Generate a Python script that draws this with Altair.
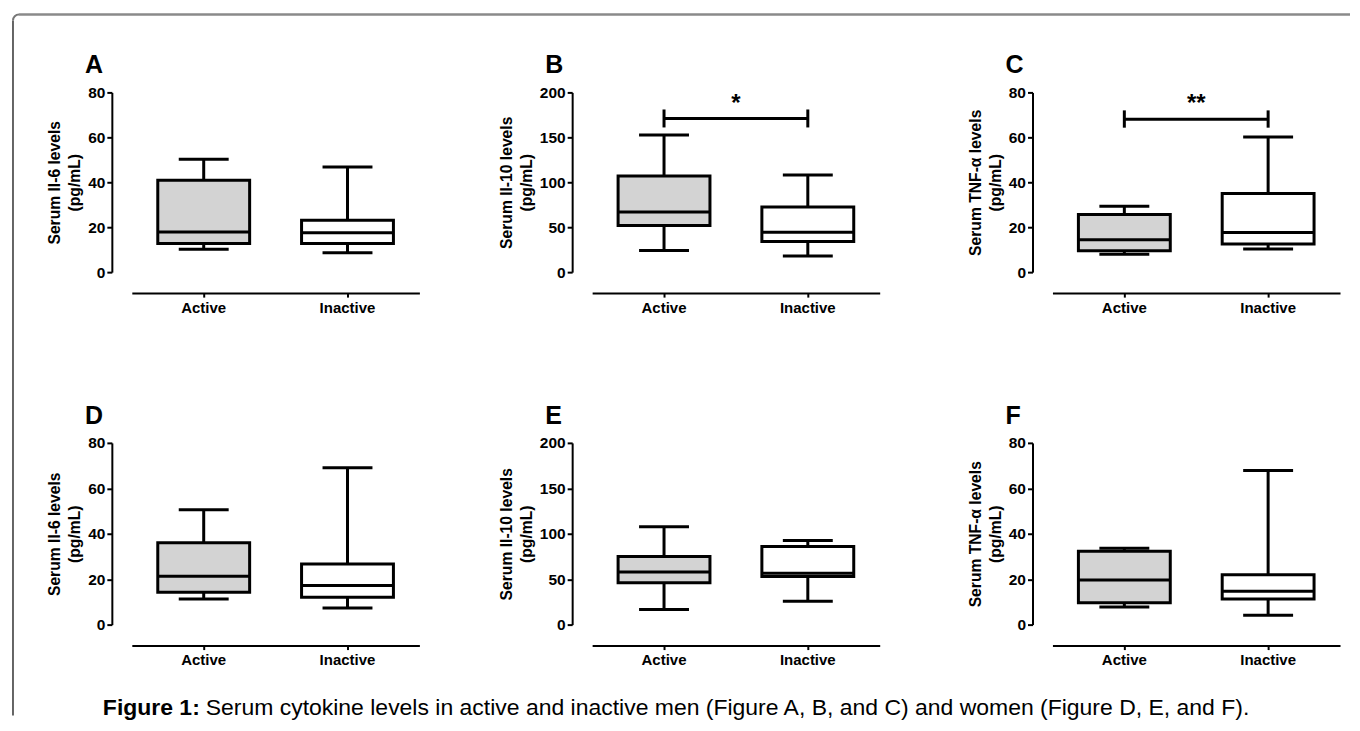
import altair as alt
import pandas as pd

FONT = "Liberation Sans"

groups = ["Active", "Inactive"]
box_fill = ["#d3d3d3", "#ffffff"]
panel_letters = ["A", "B", "C", "D", "E", "F"]
y_titles = [
    ["Serum Il-6 levels", "(pg/mL)"],
    ["Serum Il-10 levels", "(pg/mL)"],
    ["Serum TNF-α levels", "(pg/mL)"],
    ["Serum Il-6 levels", "(pg/mL)"],
    ["Serum Il-10 levels", "(pg/mL)"],
    ["Serum TNF-α levels", "(pg/mL)"],
]
y_max = [80, 200, 80, 80, 200, 80]
y_step = [20, 50, 20, 20, 50, 20]

# each entry: [Active, Inactive]
whisker_low = [[10.2, 8.6], [24, 18], [8.0, 10.3], [11.3, 7.3], [16.5, 25.7], [7.8, 4.1]]
q1 = [[12.7, 12.7], [52, 34], [9.5, 12.5], [14.2, 12.0], [46, 53], [9.6, 11.3]]
median = [[17.9, 17.5], [67, 44.5], [14.4, 17.6], [21.3, 17.2], [58, 56.5], [19.6, 14.7]]
q3 = [[40.9, 23.1], [107, 72.6], [25.7, 35.0], [36.0, 26.7], [75, 86], [32.3, 22.0]]
whisker_high = [[50.2, 46.8], [152.5, 108], [29.3, 60.2], [50.6, 69.0], [107.6, 92.5], [33.6, 67.8]]

sig_panels = [1, 2]
sig_y = [171, 68]
sig_tick_low = [161, 64.3]
sig_tick_high = [181, 72]
sig_text_y = [194, 77.5]
sig_text = ["*", "**"]

caption_bold = "Figure 1:"
caption_rest = ("Serum cytokine levels in active and inactive men (Figure A, B, and C) "
                "and women (Figure D, E, and F).")

PLOT_W = 288
ROW_H = [180, 182]


def panel(i):
    df = pd.DataFrame({
        "group": groups,
        "lo": whisker_low[i],
        "q1": q1[i],
        "med": median[i],
        "q3": q3[i],
        "hi": whisker_high[i],
    })
    xsc = alt.Scale(domain=groups, paddingInner=0, paddingOuter=0)
    ysc = alt.Scale(domain=[0, y_max[i]], nice=False, zero=True)
    xax = alt.Axis(title=None, labelAngle=0, offset=21, tickSize=4, labelPadding=3,
                   domainColor="black", domainWidth=2, tickColor="black", tickWidth=2,
                   labelFont=FONT, labelFontSize=15, labelFontWeight="bold", labelColor="black",
                   grid=False)
    yax = alt.Axis(title=y_titles[i], values=list(range(0, y_max[i] + 1, y_step[i])),
                   offset=20, tickSize=5, labelPadding=2,
                   domainColor="black", domainWidth=2, tickColor="black", tickWidth=2,
                   labelFont=FONT, labelFontSize=15.5, labelFontWeight="bold", labelColor="black",
                   titleFont=FONT, titleFontSize=15.7, titleFontWeight="bold", titleColor="black",
                   titlePadding=5, titleLineHeight=20, grid=False)
    X = alt.X("group:N", scale=xsc, axis=xax)
    base = alt.Chart(df)
    letter_df = pd.DataFrame({"t": [panel_letters[i]]})
    layers = [
        base.mark_rule(color="black", strokeWidth=3).encode(
            x=X, y=alt.Y("lo:Q", scale=ysc, axis=yax), y2="hi:Q"),
        base.mark_bar(size=92, stroke="black", strokeWidth=3, opacity=1).encode(
            x=X, y="q1:Q", y2="q3:Q",
            fill=alt.Fill("group:N", scale=alt.Scale(domain=groups, range=box_fill), legend=None)),
        base.mark_tick(size=92, thickness=3, color="black", opacity=1).encode(x=X, y="med:Q"),
        base.mark_tick(size=50, thickness=3, color="black", opacity=1).encode(x=X, y="lo:Q"),
        base.mark_tick(size=50, thickness=3, color="black", opacity=1).encode(x=X, y="hi:Q"),
        alt.Chart(letter_df).mark_text(font=FONT, fontSize=25, fontWeight="bold", color="black",
                                       align="left", baseline="alphabetic").encode(
            x=alt.value(-47), y=alt.value(-19), text="t:N"),
    ]
    if i in sig_panels:
        k = sig_panels.index(i)
        sdf = pd.DataFrame({"group": groups, "y": [sig_y[k]] * 2,
                            "lo": [sig_tick_low[k]] * 2, "hi": [sig_tick_high[k]] * 2})
        tdf = pd.DataFrame({"group": [groups[0]], "y": [sig_text_y[k]], "t": [sig_text[k]]})
        layers += [
            alt.Chart(sdf).mark_line(color="black", strokeWidth=3).encode(x=X, y="y:Q"),
            alt.Chart(sdf).mark_rule(color="black", strokeWidth=3).encode(x=X, y="lo:Q", y2="hi:Q"),
            alt.Chart(tdf).mark_text(font=FONT, fontSize=24, fontWeight="bold", color="black",
                                     dx=72, dy=6, baseline="middle").encode(x=X, y="y:Q", text="t:N"),
        ]
    if i == 0:
        frame_df = pd.DataFrame({"v": [0]})
        layers += [
            alt.Chart(frame_df).mark_rule(color="#8a8a8a", strokeWidth=2.5).encode(
                x=alt.value(-113), x2=alt.value(1220), y=alt.value(-78)),
            alt.Chart(frame_df).mark_rule(color="#333333", strokeWidth=1.5).encode(
                x=alt.value(-119), y=alt.value(-72), y2=alt.value(624)),
            alt.Chart(frame_df).mark_arc(stroke="#777777", strokeWidth=2, fill="transparent",
                                         theta=4.71239, theta2=6.28319,
                                         radius=6, radius2=6).encode(
                x=alt.value(-113), y=alt.value(-72)),
        ]
    if i == 3:
        cap_df = pd.DataFrame({"b": [caption_bold], "r": [caption_rest]})
        layers += [
            alt.Chart(cap_df).mark_text(font=FONT, fontSize=23, fontWeight="bold", color="black",
                                        align="left", baseline="middle").encode(
                x=alt.value(-29), y=alt.value(266), text="b:N"),
            alt.Chart(cap_df).mark_text(font=FONT, fontSize=23, color="black",
                                        align="left", baseline="middle").encode(
                x=alt.value(74), y=alt.value(266), text="r:N"),
        ]
    return alt.layer(*layers).properties(width=PLOT_W, height=ROW_H[i // 3])


panels = [panel(i) for i in range(6)]

chart = alt.concat(*panels, columns=3, spacing={"row": 171, "column": 173},
                   bounds="flush").properties(
    padding={"left": 0, "top": 1, "right": 0, "bottom": 0}
).configure_view(stroke="transparent")

chart.save("out.html", embed_options={"renderer": "svg", "actions": False})
